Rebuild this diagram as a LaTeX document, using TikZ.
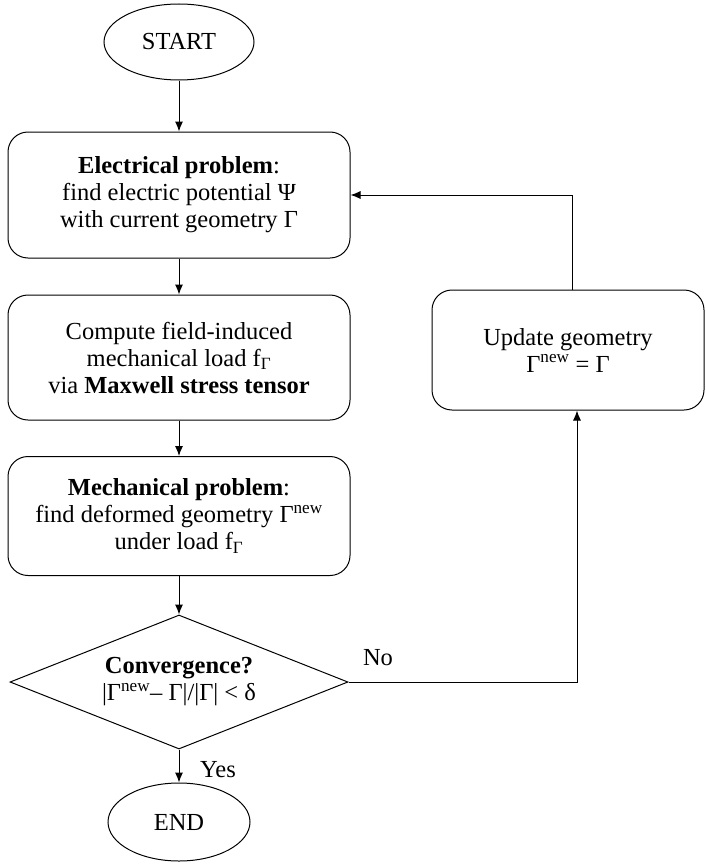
\documentclass[tikz,border=0pt]{standalone}
\usepackage{fontspec}
\setmainfont{Liberation Serif}
\usetikzlibrary{shapes.geometric,arrows.meta}
\begin{document}
\begin{tikzpicture}[x=1pt,y=-1pt,
  every node/.style={font=\fontsize{24.5}{27}\selectfont, align=center, inner sep=0pt},
  rbox/.style={draw, rounded corners=20pt, line width=1pt},
  ell/.style={draw, ellipse, line width=1pt},
  dia/.style={draw, diamond, aspect=2.52, line width=1pt},
  conn/.style={line width=1pt, -{Latex[length=10pt,width=8pt]}}]
\useasboundingbox (0,0) rectangle (705,867);
\node[ell, minimum width=150pt, minimum height=76pt] (start) at (179,42) {START};
\node[rbox, minimum width=342pt, minimum height=126pt] (box1) at (179,195)
  {\textbf{Electrical problem}:\\ find electric potential Ψ\\ with current geometry Γ};
\node[rbox, minimum width=342pt, minimum height=125pt] (box2) at (179,357.5)
  {Compute field-induced\\ mechanical load f\textsubscript{Γ}\\ via \textbf{Maxwell stress tensor}};
\node[rbox, minimum width=342pt, minimum height=119pt] (box3) at (179,516)
  {\textbf{Mechanical problem}:\\ find deformed geometry Γ\textsuperscript{new}\\ under load f\textsubscript{Γ}};
\node[dia, minimum width=338pt, minimum height=134pt] (conv) at (179,682)
  {\textbf{Convergence?}\\ |Γ\textsuperscript{new}– Γ|/|Γ| < δ};
\node[ell, minimum width=142pt, minimum height=78pt] (end) at (179,822) {END};
\node[rbox, minimum width=272pt, minimum height=120pt] (box4) at (568,350)
  {Update geometry\\ Γ\textsuperscript{new} = Γ};
\node (no) at (378,658) {No};
\node (yes) at (218,770) {Yes};
\draw[conn] (start) -- (box1);
\draw[conn] (box1) -- (box2);
\draw[conn] (box2) -- (box3);
\draw[conn] (box3) -- (conv);
\draw[conn] (conv) -- (end);
\draw[conn] (conv.east) -| ([xshift=9pt]box4.south);
\draw[conn] ([xshift=4pt]box4.north) |- (box1.east);
\end{tikzpicture}
\end{document}
